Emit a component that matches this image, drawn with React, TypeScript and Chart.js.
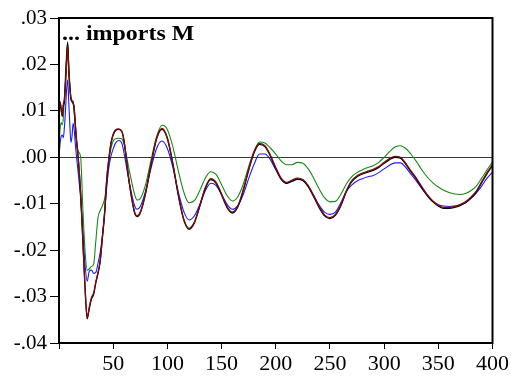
import React, { useEffect, useRef } from "react";
import { Chart, registerables } from "chart.js";

Chart.register(...registerables);

const xs = [
  0, 1, 2, 3, 4, 5, 6, 7, 8, 9, 10, 11, 12, 13, 14, 15, 16,
  18, 20, 22, 24, 26, 28, 30, 32, 34, 36, 38, 40, 42, 44, 46, 48, 50, 52,
  55, 58, 60, 65, 70, 72, 75,
  80, 85, 90, 95, 100, 105, 110, 115, 120, 125, 130, 135, 140, 145, 150, 155, 160,
  165, 170, 175, 180, 185, 190, 195, 200, 205, 210, 215, 220, 225, 230, 235, 240,
  245, 250, 255, 260, 265, 270, 275, 280, 285, 290, 295, 300, 305, 310, 315, 320,
  325, 330, 335, 340, 345, 350, 355, 360, 365, 370, 375, 380, 385, 390, 395, 400,
];

const blackSeries = [
  0.0095, 0.0118, 0.0105, 0.0088, 0.0110, 0.0120, 0.0160, 0.0210, 0.0248, 0.0190, 0.0150, 0.0125, 0.0120, 0.0118, 0.0100, 0.0070, 0.0040,
  -0.0010, -0.0080, -0.0180, -0.0280, -0.0348, -0.0325, -0.0305, -0.0295, -0.0270, -0.0250, -0.0225, -0.0175, -0.0125, -0.0050, -0.0005, 0.0030, 0.0048, 0.0057,
  0.0060, 0.0055, 0.0035, -0.0058, -0.0122, -0.0128, -0.0120,
  -0.0077, -0.0015, 0.0039, 0.0060, 0.0040, -0.0014, -0.0081, -0.0134, -0.0155, -0.0141, -0.0105, -0.0067, -0.0048, -0.0056, -0.0081, -0.0108, -0.0120,
  -0.0107, -0.0072, -0.0028, 0.0010, 0.0028, 0.0023, 0.0003, -0.0024, -0.0047, -0.0056, -0.0051, -0.0047, -0.0050, -0.0063, -0.0085, -0.0108,
  -0.0126, -0.0132, -0.0125, -0.0105, -0.0075, -0.0053, -0.0042, -0.0036, -0.0032, -0.0028, -0.0022, -0.0013, -0.0005, 0.0000, -0.0002, -0.0015,
  -0.0032, -0.0048, -0.0066, -0.0083, -0.0096, -0.0105, -0.0110, -0.0110, -0.0108, -0.0104, -0.0098, -0.0088, -0.0075, -0.0055, -0.0035, -0.0018,
];

const redSeries = [
  0.0105, 0.0120, 0.0100, 0.0090, 0.0115, 0.0125, 0.0160, 0.0205, 0.0240, 0.0185, 0.0150, 0.0128, 0.0122, 0.0120, 0.0102, 0.0072, 0.0042,
  -0.0008, -0.0078, -0.0178, -0.0278, -0.0345, -0.0322, -0.0302, -0.0292, -0.0268, -0.0248, -0.0222, -0.0172, -0.0122, -0.0048, -0.0003, 0.0032, 0.0050, 0.0059,
  0.0061, 0.0056, 0.0036, -0.0056, -0.0120, -0.0126, -0.0118,
  -0.0075, -0.0013, 0.0041, 0.0062, 0.0042, -0.0012, -0.0079, -0.0132, -0.0153, -0.0139, -0.0103, -0.0065, -0.0046, -0.0054, -0.0079, -0.0106, -0.0118,
  -0.0105, -0.0070, -0.0026, 0.0012, 0.0030, 0.0025, 0.0005, -0.0022, -0.0045, -0.0054, -0.0049, -0.0045, -0.0048, -0.0061, -0.0083, -0.0106,
  -0.0124, -0.0130, -0.0123, -0.0103, -0.0073, -0.0051, -0.0040, -0.0034, -0.0030, -0.0026, -0.0020, -0.0011, -0.0003, 0.0002, 0.0000, -0.0013,
  -0.0030, -0.0046, -0.0064, -0.0081, -0.0094, -0.0103, -0.0108, -0.0108, -0.0106, -0.0102, -0.0096, -0.0086, -0.0073, -0.0053, -0.0033, -0.0016,
];

const blueSeries = [
  0.0000, 0.0030, 0.0045, 0.0048, 0.0042, 0.0065, 0.0100, 0.0145, 0.0167, 0.0120, 0.0070, 0.0032, 0.0045, 0.0073, 0.0060, 0.0030, 0.0005,
  -0.0040, -0.0090, -0.0160, -0.0230, -0.0267, -0.0245, -0.0243, -0.0250, -0.0248, -0.0228, -0.0205, -0.0170, -0.0120, -0.0065, -0.0022, 0.0003, 0.0018, 0.0030,
  0.0036, 0.0030, 0.0009, -0.0056, -0.0106, -0.0112, -0.0106,
  -0.0072, -0.0023, 0.0019, 0.0035, 0.0019, -0.0021, -0.0074, -0.0116, -0.0135, -0.0126, -0.0101, -0.0072, -0.0056, -0.0061, -0.0080, -0.0101, -0.0112,
  -0.0104, -0.0080, -0.0046, -0.0015, 0.0007, 0.0007, -0.0005, -0.0027, -0.0047, -0.0056, -0.0052, -0.0048, -0.0050, -0.0062, -0.0082, -0.0103,
  -0.0118, -0.0123, -0.0118, -0.0098, -0.0074, -0.0060, -0.0051, -0.0046, -0.0042, -0.0039, -0.0033, -0.0025, -0.0017, -0.0012, -0.0012, -0.0022,
  -0.0037, -0.0052, -0.0068, -0.0083, -0.0095, -0.0102, -0.0105, -0.0106, -0.0105, -0.0103, -0.0098, -0.0089, -0.0077, -0.0062, -0.0045, -0.0032,
];

const greenSeries = [
  0.0020, 0.0060, 0.0075, 0.0070, 0.0085, 0.0130, 0.0180, 0.0225, 0.0245, 0.0200, 0.0160, 0.0130, 0.0120, 0.0115, 0.0110, 0.0080, 0.0040,
  0.0012, 0.0000, -0.0110, -0.0200, -0.0243, -0.0240, -0.0235, -0.0230, -0.0180, -0.0130, -0.0115, -0.0105, -0.0090, -0.0060, -0.0010, 0.0020, 0.0035, 0.0040,
  0.0041, 0.0040, 0.0028, -0.0030, -0.0082, -0.0092, -0.0089,
  -0.0058, -0.0005, 0.0044, 0.0069, 0.0060, 0.0023, -0.0028, -0.0074, -0.0098, -0.0093, -0.0071, -0.0045, -0.0031, -0.0037, -0.0059, -0.0082, -0.0094,
  -0.0085, -0.0058, -0.0020, 0.0013, 0.0033, 0.0031, 0.0020, 0.0007, -0.0008, -0.0016, -0.0016, -0.0011, -0.0013, -0.0025, -0.0045, -0.0068,
  -0.0087, -0.0096, -0.0095, -0.0080, -0.0058, -0.0042, -0.0033, -0.0027, -0.0022, -0.0018, -0.0011, 0.0000, 0.0012, 0.0022, 0.0025, 0.0019,
  0.0006, -0.0010, -0.0028, -0.0043, -0.0055, -0.0064, -0.0071, -0.0076, -0.0079, -0.0080, -0.0078, -0.0072, -0.0062, -0.0045, -0.0027, -0.0010,
];

const titleText = "... imports M";
const xTickStep = 50;
const yTickStep = 0.01;

const FONT = '"Liberation Serif", "Times New Roman", serif';

function toPoints(ys: number[]) {
  return xs.map((x, i) => ({ x, y: ys[i] }));
}

const framePlugin = {
  id: "frameAndTitle",
  afterDatasetsDraw(chart: any) {
    const { ctx, chartArea } = chart;
    ctx.save();
    ctx.strokeStyle = "#000";
    ctx.lineWidth = 2;
    ctx.strokeRect(chartArea.left, chartArea.top, chartArea.right - chartArea.left, chartArea.bottom - chartArea.top);
    ctx.fillStyle = "#000";
    ctx.font = "bold 21px " + FONT;
    ctx.textBaseline = "alphabetic";
    ctx.translate(chartArea.left + 3, chartArea.top + 22);
    ctx.scale(1.14, 1);
    ctx.fillText(titleText, 0, 0);
    ctx.restore();
  },
};

export default function App() {
  const ref = useRef<HTMLCanvasElement>(null);
  useEffect(() => {
    document.body.style.margin = "0";
    const canvas = ref.current!;
    const line = (ys: number[], color: string, w: number) => ({
      data: toPoints(ys),
      borderColor: color,
      backgroundColor: color,
      borderWidth: w,
      pointRadius: 0,
      fill: false,
      cubicInterpolationMode: "monotone" as const,
    });
    const chart = new Chart(canvas, {
      type: "line",
      data: {
        datasets: [
          line(redSeries, "#7a0c0c", 1.3),
          line(blackSeries, "#000000", 1.3),
          line(blueSeries, "#1a1aff", 1.1),
          line(greenSeries, "#168a16", 1.1),
        ],
      },
      options: {
        animation: false,
        responsive: false,
        layout: { padding: { left: 0, right: 18, top: 18, bottom: 0 } },
        plugins: { legend: { display: false }, tooltip: { enabled: false } },
        scales: {
          x: {
            type: "linear",
            min: 0,
            max: 400,
            afterFit: (s: any) => {
              s.height = 38;
            },
            border: { display: true, color: "#000", width: 2 },
            grid: {
              drawOnChartArea: false,
              drawTicks: true,
              tickLength: 6,
              tickColor: "#000",
              tickWidth: 1,
            },
            ticks: {
              stepSize: xTickStep,
              autoSkip: false,
              maxRotation: 0,
              color: "#000",
              padding: 2,
              font: { family: FONT, size: 22 },
              callback: (v: any) => (Number(v) === 0 ? "" : String(v)),
            },
          },
          y: {
            type: "linear",
            min: -0.04,
            max: 0.03,
            afterFit: (s: any) => {
              s.width = 59;
            },
            border: { display: true, color: "#000", width: 2 },
            grid: {
              drawOnChartArea: true,
              drawTicks: true,
              tickLength: 9,
              tickColor: "#000",
              tickWidth: 1,
              color: (c: any) =>
                c.tick && Math.abs(c.tick.value) < 1e-9 ? "#3a3a3a" : "rgba(0,0,0,0)",
              lineWidth: 1,
            },
            ticks: {
              stepSize: yTickStep,
              autoSkip: false,
              color: "#000",
              padding: 3,
              font: { family: FONT, size: 21 },
              callback: (v: any) => {
                const r = Math.round(Number(v) * 100) / 100;
                return r.toFixed(2).replace("0.", ".");
              },
            },
          },
        },
      },
      plugins: [framePlugin],
    });
    return () => chart.destroy();
  }, []);
  return (
    <div style={{ position: "absolute", left: 0, top: 0, width: 511, height: 381, background: "#fff" }}>
      <canvas ref={ref} width={511} height={381} style={{ display: "block" }} />
    </div>
  );
}
